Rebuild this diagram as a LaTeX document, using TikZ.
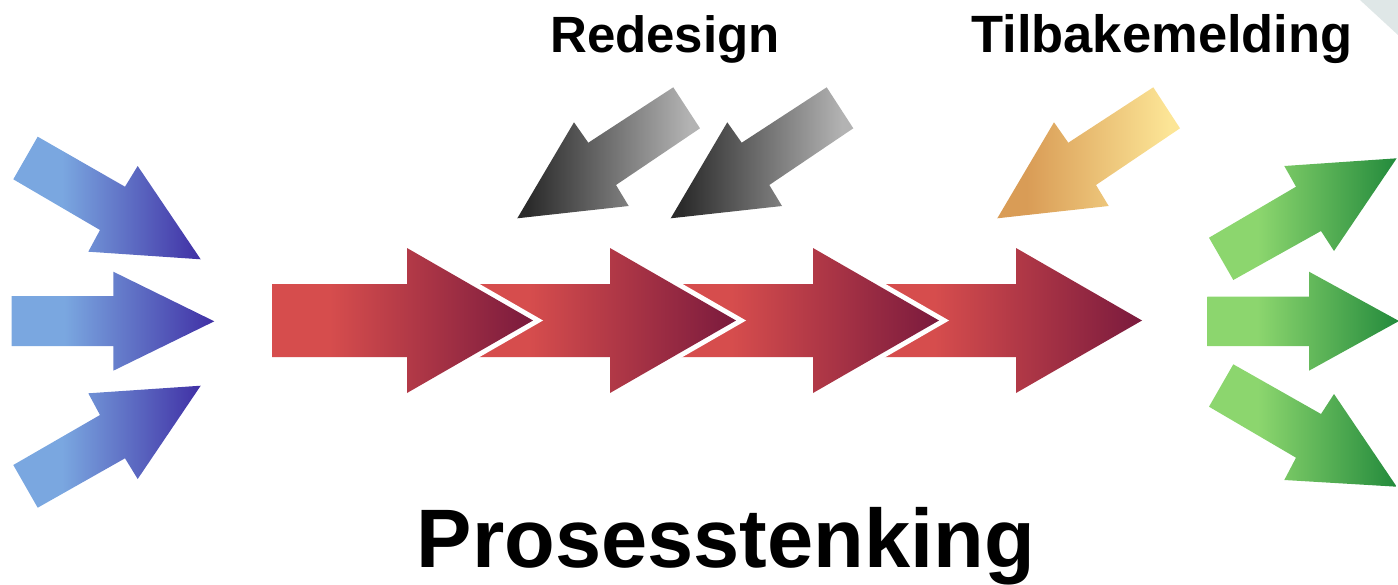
\documentclass[tikz,border=0pt]{standalone}
\usepackage{fontspec}
\setmainfont{Liberation Sans}
\definecolor{blueL}{HTML}{7AA7E0}
\definecolor{blueR}{HTML}{4030A5}
\definecolor{greenL}{HTML}{8CD66E}
\definecolor{greenR}{HTML}{238A3C}
\definecolor{grayL}{HTML}{2B2B2B}
\definecolor{grayR}{HTML}{B3B3B3}
\definecolor{goldL}{HTML}{D99C56}
\definecolor{goldR}{HTML}{FCE596}
\definecolor{redL}{HTML}{D64D4D}
\definecolor{redR}{HTML}{7A1A3D}
\definecolor{cornerc}{HTML}{DFE7E7}
\pgfdeclarehorizontalshading{blueshade}{100bp}{color(0bp)=(blueL); color(38bp)=(blueL); color(75bp)=(blueR); color(100bp)=(blueR)}
\pgfdeclarehorizontalshading{greenshade}{100bp}{color(0bp)=(greenL); color(38bp)=(greenL); color(75bp)=(greenR); color(100bp)=(greenR)}
\pgfdeclarehorizontalshading{grayshade}{100bp}{color(0bp)=(grayL); color(28bp)=(grayL); color(72bp)=(grayR); color(100bp)=(grayR)}
\pgfdeclarehorizontalshading{goldshade}{100bp}{color(0bp)=(goldL); color(33bp)=(goldL); color(72bp)=(goldR); color(100bp)=(goldR)}
\pgfdeclarehorizontalshading{redshade}{100bp}{color(0bp)=(redL); color(36bp)=(redL); color(75bp)=(redR); color(100bp)=(redR)}
\tikzset{
  bluearrow/.style={shading=blueshade, draw=none},
  greenarrow/.style={shading=greenshade, draw=none},
  grayarrow/.style={shading=grayshade, draw=none},
  goldarrow/.style={shading=goldshade, draw=none},
  redarrow/.style={shading=redshade, draw=none},
  halo/.style={draw=white, fill=white, line width=10pt, line join=miter},
  label/.style={font=\bfseries\fontsize{51}{60}\selectfont, anchor=base, inner sep=0pt},
  labelwide/.style={font=\bfseries\fontsize{52.5}{60}\selectfont, anchor=base, inner sep=0pt},
  title/.style={font=\bfseries\fontsize{83}{96}\selectfont, anchor=base, inner sep=0pt}
}
\begin{document}
\begin{tikzpicture}[x=1pt, y=-1pt]
\useasboundingbox (0,0) rectangle (1398,584);
% corner triangle
\fill[cornerc] (1360,0) -- (1398,0) -- (1398,35) -- cycle;
% blue incoming arrows
\path[bluearrow] (37.7,136.7) -- (125,186.7) -- (137.7,166) -- (200.7,259.3) -- (88.3,251.7) -- (100,230) -- (13.3,179.3) -- cycle;
\path[bluearrow] (11.7,296) -- (113.3,296) -- (113.3,271.7) -- (214.3,321.3) -- (113.3,370.7) -- (113.3,346) -- (11.7,346) -- cycle;
\path[bluearrow] (37.7,507.7) -- (125,458.3) -- (137.7,479) -- (200.7,385.7) -- (88.3,393.3) -- (100,415) -- (13.3,465) -- cycle;
% red process chain (drawn right to left so left ones lie on top)
\foreach \b/\l in {1016/876, 813/673, 610/470, 407/272} {
  \path[halo] (\l,284) -- (\b,284) -- (\b,248) -- (\b+126,320.5) -- (\b,393) -- (\b,357) -- (\l,357) -- cycle;
  \path[redarrow] (\l,284) -- (\b,284) -- (\b,248) -- (\b+126,320.5) -- (\b,393) -- (\b,357) -- (\l,357) -- cycle;
}
% gray redesign arrows
\path[grayarrow] (673.3,87.3) -- (700,128.3) -- (616,185) -- (628.7,206) -- (517.3,218.3) -- (574,122.3) -- (588.3,142.7) -- cycle;
\path[grayarrow] (826.7,87.3) -- (853.3,128.3) -- (769.3,185) -- (782,206) -- (670.7,218.3) -- (727.3,122.3) -- (741.7,142.7) -- cycle;
% gold feedback arrow
\path[goldarrow] (1153.3,87.3) -- (1180,128.3) -- (1096,185) -- (1108.7,206) -- (997.3,218.3) -- (1054,122.3) -- (1068.3,142.7) -- cycle;
% green outgoing arrows
\path[greenarrow] (1209,237.7) -- (1233.3,280) -- (1321,231) -- (1334,251) -- (1396.7,158.3) -- (1284.3,166) -- (1296,186.7) -- cycle;
\path[greenarrow] (1207.3,296.7) -- (1309,296.7) -- (1309,271.7) -- (1399,321) -- (1309,370.7) -- (1309,346) -- (1207.3,346) -- cycle;
\path[greenarrow] (1233.3,364.3) -- (1209,406.7) -- (1296,457.7) -- (1284.3,480) -- (1396.7,486.7) -- (1334,394) -- (1321,414) -- cycle;
% texts
\node[label] (redesign) at (665,52) {Redesign};
\node[labelwide] (tilbake) at (1162,52) {Tilbakemelding};
\node[title] (prosess) at (726,567) {Prosesstenking};
\end{tikzpicture}
\end{document}
